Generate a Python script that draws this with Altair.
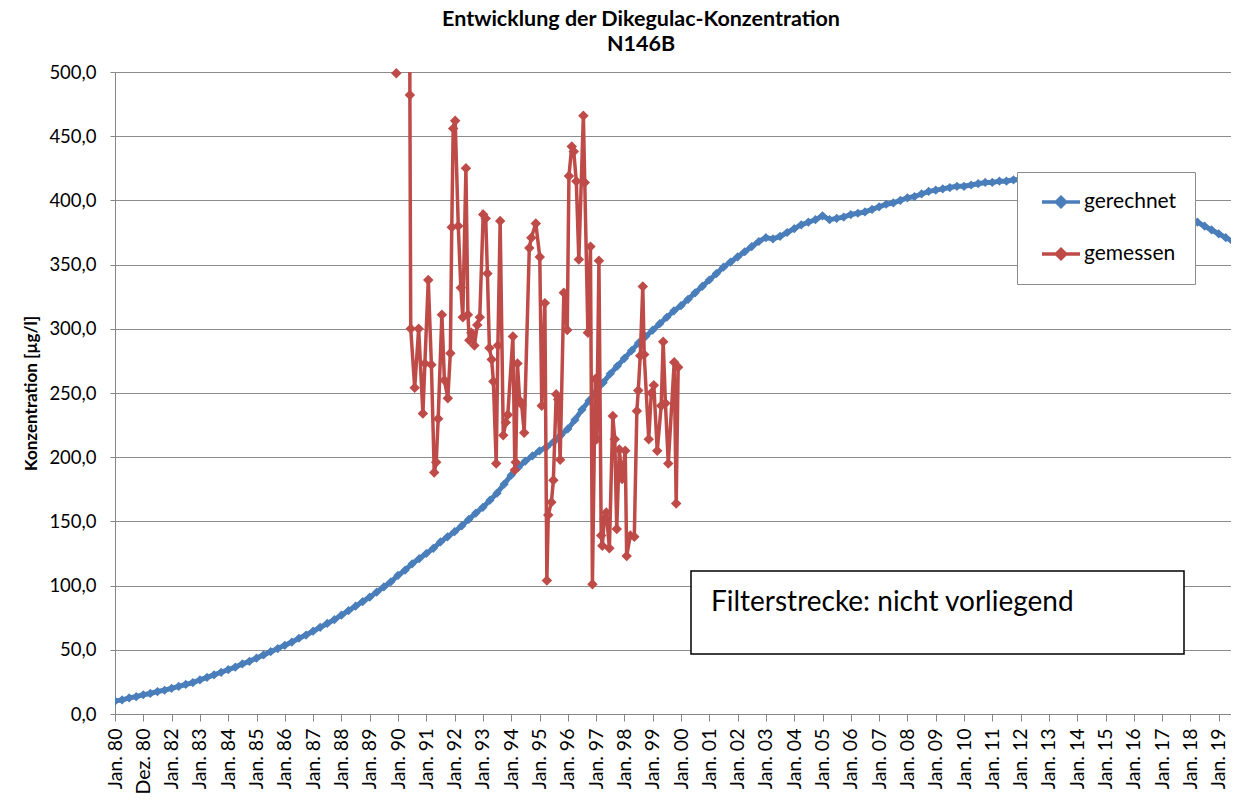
import altair as alt
import pandas as pd

# ---------------- data ----------------
# "gerechnet": quarterly readings from 1980.0 onward
blue_values = [
    10, 11, 12.5, 13.5,
    15, 16, 17.5, 18.5,
    20, 21.5, 23, 24.5,
    26.5, 28.5, 30.5, 32.5,
    34.5, 36.5, 39, 41,
    43.5, 46, 48.5, 51,
    53.5, 56, 59, 61.5,
    64.5, 67.5, 70.5, 73.5,
    77, 80.5, 84, 87.5,
    91, 95, 99, 103,
    108, 112, 117, 121,
    125, 129, 134, 138,
    142, 146.5, 151.5, 156.5,
    161, 166.5, 172, 179,
    186, 192, 197, 201,
    205, 208, 212, 217,
    222, 229, 237, 244,
    251, 258, 265, 271,
    277, 283, 289, 294,
    299, 304, 309, 314,
    318, 323, 328, 333,
    338, 343, 348, 352,
    356, 360, 364, 368,
    371, 370, 372, 375,
    378, 381, 383, 385,
    388, 385, 386, 387,
    389, 390, 391, 393,
    395, 397, 398, 400,
    402, 403, 405, 407,
    408, 409, 410, 411,
    411, 412, 413, 414,
    414, 415, 415, 416,
    416, 417, 417, 417,
    416, 416, 415, 414,
    413, 411, 410, 408,
    406, 404, 402, 400,
    399, 397, 395, 394,
    392, 391, 389, 387,
    386, 383, 380, 377,
    374, 371, 368, 366,
]
blue_years = [1980 + 0.25 * i for i in range(len(blue_values))]

# "gemessen": measured values (decimal year, µg/l)
red_years = [
    1989.94, 1990.33, 1990.42, 1990.45, 1990.59, 1990.73, 1990.88, 1990.95, 1991.07, 1991.18,
    1991.28, 1991.35, 1991.42, 1991.55, 1991.64, 1991.76, 1991.85, 1991.90, 1991.95, 1992.02,
    1992.13, 1992.22, 1992.29, 1992.40, 1992.47, 1992.52, 1992.59, 1992.70, 1992.80, 1992.89,
    1993.01, 1993.10, 1993.16, 1993.23, 1993.31, 1993.37, 1993.47, 1993.53, 1993.61, 1993.72,
    1993.81, 1993.88, 1994.06, 1994.13, 1994.16, 1994.22, 1994.30, 1994.37, 1994.46, 1994.64,
    1994.71, 1994.87, 1995.01, 1995.08, 1995.19, 1995.26, 1995.31, 1995.42, 1995.49, 1995.59,
    1995.66, 1995.73, 1995.86, 1995.98, 1996.04, 1996.14, 1996.21, 1996.30, 1996.39, 1996.55,
    1996.60, 1996.71, 1996.80, 1996.87, 1996.97, 1997.02, 1997.10, 1997.18, 1997.22, 1997.29,
    1997.36, 1997.47, 1997.59, 1997.66, 1997.73, 1997.82, 1997.92, 1998.03, 1998.08, 1998.21,
    1998.35, 1998.44, 1998.49, 1998.56, 1998.65, 1998.70, 1998.86, 1998.95, 1999.04, 1999.16,
    1999.30, 1999.37, 1999.45, 1999.55, 1999.76, 1999.83, 1999.90,
]
red_values = [
    499, 1600, 482, 300, 254, 300, 234, 273, 338, 272,
    188, 196, 230, 311, 260, 246, 281, 379, 456, 462,
    380, 332, 309, 425, 311, 291, 297, 287, 303, 309,
    389, 386, 343, 285, 276, 259, 195, 287, 384, 217,
    227, 233, 294, 190, 196, 273, 244, 241, 219, 363,
    371, 382, 356, 240, 320, 104, 155, 165, 182, 249,
    245, 198, 328, 299, 419, 442, 438, 415, 354, 466,
    414, 297, 364, 101, 261, 214, 353, 139, 131, 152,
    157, 129, 232, 214, 144, 206, 183, 205, 123, 139,
    138, 236, 252, 279, 333, 280, 214, 250, 256, 205,
    240, 290, 242, 195, 274, 164, 270,
]

series_names = ["gerechnet", "gemessen"]
series_colors = ["#4A7EBB", "#BE4B48"]

x_tick_years = list(range(1980, 2020))
x_tick_labels = [
    "Jan. 80", "Dez. 80", "Jan. 82", "Jan. 83", "Jan. 84", "Jan. 85", "Jan. 86",
    "Jan. 87", "Jan. 88", "Jan. 89", "Jan. 90", "Jan. 91", "Jan. 92", "Jan. 93",
    "Jan. 94", "Jan. 95", "Jan. 96", "Jan. 97", "Jan. 98", "Jan. 99", "Jan. 00",
    "Jan. 01", "Jan. 02", "Jan. 03", "Jan. 04", "Jan. 05", "Jan. 06", "Jan. 07",
    "Jan. 08", "Jan. 09", "Jan. 10", "Jan. 11", "Jan. 12", "Jan. 13", "Jan. 14",
    "Jan. 15", "Jan. 16", "Jan. 17", "Jan. 18", "Jan. 19",
]
y_ticks = [0, 50, 100, 150, 200, 250, 300, 350, 400, 450, 500]

title_text = "Entwicklung der Dikegulac-Konzentration"
subtitle_text = "N146B"
y_title = "Konzentration [µg/l]"
note_text = "Filterstrecke: nicht vorliegend"

# ---------------- frames ----------------
blue_df = pd.DataFrame({"t": blue_years, "v": blue_values, "s": series_names[0]})
red_df = pd.DataFrame({"t": red_years, "v": red_values, "s": series_names[1]})

FONT = "Lato"
W, H = 1116, 642
X_MAX = 1980 + W / 28.3

label_expr = "[" + ",".join(f"'{l}'" for l in x_tick_labels) + "][round(datum.value) - 1980]"

x_enc = alt.X(
    "t:Q",
    scale=alt.Scale(domain=[1980, X_MAX], nice=False, zero=False),
    axis=alt.Axis(
        values=x_tick_years, labelExpr=label_expr, grid=False, labelAngle=270,
        labelAlign="right", labelBaseline="middle", labelFontSize=19.5, labelFont=FONT,
        labelColor="#000000", tickSize=7, labelPadding=7, title=None,
        domainColor="#868686", tickColor="#868686", labelOverlap=False,
    ),
)
y_enc = alt.Y(
    "v:Q",
    scale=alt.Scale(domain=[0, 500], nice=False, zero=True),
    axis=alt.Axis(
        values=y_ticks, labelExpr="replace(format(datum.value, '.1f'), '.', ',')",
        labelFontSize=18.5, labelFont=FONT, labelColor="#000000", grid=True,
        gridColor="#8C8C8C", gridWidth=1, tickSize=5, labelPadding=14,
        domainColor="#868686", tickColor="#868686", title=y_title,
        titleFontSize=17, titleFont=FONT, titleFontWeight="bold", titleColor="#000000",
        titlePadding=8,
    ),
)
color_enc = alt.Color(
    "s:N",
    scale=alt.Scale(domain=series_names, range=series_colors),
    legend=alt.Legend(
        orient="none", legendX=902, legendY=100, title=None,
        labelFontSize=21, labelFont=FONT, labelColor="#000000",
        symbolType="M-1.9,0L1.9,0M-0.46,0L0,-0.46L0.46,0L0,0.46Z",
        symbolSize=400, symbolStrokeWidth=3.5, padding=18, rowPadding=28,
        symbolOffset=14, labelOffset=11, strokeColor="#8C8C8C", fillColor="white",
    ),
)

blue_line = alt.Chart(blue_df).mark_line(strokeWidth=5, clip=True).encode(x=x_enc, y=y_enc, color=color_enc)
blue_pts = alt.Chart(blue_df).mark_point(shape="diamond", filled=True, size=85, opacity=1, clip=True).encode(
    x=x_enc, y=y_enc, color=color_enc)
red_line = alt.Chart(red_df).mark_line(strokeWidth=3.5, clip=True).encode(x=x_enc, y=y_enc, color=color_enc)
red_pts = alt.Chart(red_df).transform_filter("datum.v <= 505").mark_point(
    shape="diamond", filled=True, size=110, opacity=1).encode(x=x_enc, y=y_enc, color=color_enc)

note_box = alt.Chart(pd.DataFrame({"n": [note_text]})).mark_rect(
    fill="white", stroke="#000000", strokeWidth=1.5).encode(
    x=alt.value(576), x2=alt.value(1069), y=alt.value(499), y2=alt.value(582))
note_label = alt.Chart(pd.DataFrame({"n": [note_text]})).mark_text(
    align="left", baseline="middle", fontSize=28, font=FONT, color="#000000").encode(
    x=alt.value(596), y=alt.value(531), text="n:N")

title_1 = alt.Chart(pd.DataFrame({"n": [title_text]})).mark_text(
    align="center", baseline="middle", fontSize=21.5, fontWeight="bold", font=FONT,
    color="#000000").encode(x=alt.value(526), y=alt.value(-52), text="n:N")
title_2 = alt.Chart(pd.DataFrame({"n": [subtitle_text]})).mark_text(
    align="center", baseline="middle", fontSize=21.5, fontWeight="bold", font=FONT,
    color="#000000").encode(x=alt.value(526), y=alt.value(-27), text="n:N")

chart = alt.layer(
    blue_line, blue_pts, red_line, red_pts, note_box, note_label, title_1, title_2
).properties(
    width=W, height=H,
    autosize=alt.AutoSizeParams(type="none"),
    padding={"left": 107, "top": 64, "right": 0, "bottom": 84},
).configure_view(stroke=None)

chart.save("out.html", embed_options={"renderer": "svg", "actions": False})
